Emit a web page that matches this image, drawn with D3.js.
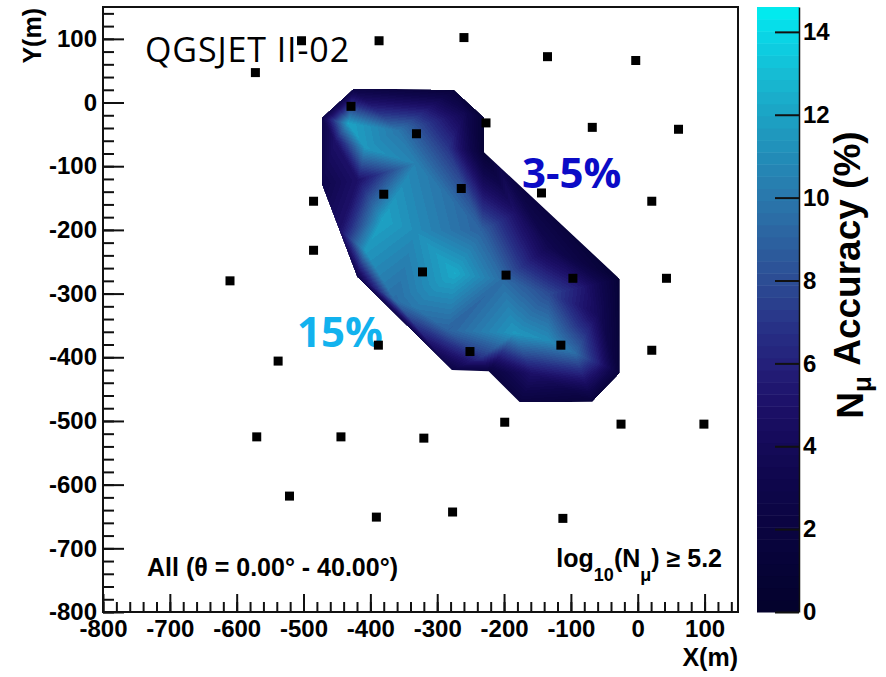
<!DOCTYPE html>
<html>
<head>
<meta charset="utf-8">
<script src="https://cdn.jsdelivr.net/npm/d3@7"></script>
<style>
  body { margin: 0; background: #fff; }
  text { font-family: "Liberation Sans", Arial, sans-serif; }
</style>
</head>
<body>
<svg width="886" height="677"></svg>
<script>
// detector stations (m)
const detX = [-503, -387, -260, -572, -429, -331, -264, -380, -485, -485, -610, -322,
  -135, -3, -227, -68, 61, -144, 21, -197, -97, 43, -388, -251, -538, -570, -444,
  -320, -521, -391, -277, -115, 21, -199, -25, 99, -112];
const detY = [97, 97, 102, 47, -6, -49, -135, -144, -155, -232, -280, -266,
  72, 66, -32, -39, -42, -142, -155, -271, -276, -276, -381, -391, -406, -525, -525,
  -527, -618, -651, -643, -381, -389, -502, -505, -505, -653];

// outline of the interpolated region and accuracy on it (%)
const hullX = [-425, -275, -230, -230, -27, -27, -68, -176, -223, -278, -420, -473, -473];
const hullY = [22, 20, -23, -78, -277, -425, -470, -471, -422, -420, -274, -128, -24];
const hullVal = [2.5, 1.5, 1, 1, 1, 1.5, 1.5, 2, 2, 2.5, 3, 3, 3];

// accuracy read inside the region (%)
const nodeX = [-433, -408, -359, -333, -284, -258, -418, -382, -333, -273, -233, -184, -134,
  -203, -134, -83, -59, -184, -134, -94, -59, -333, -284, -233, -158, -408, -363, -453, -445];
const nodeY = [-33, -71, -44, -96, -71, -17, -122, -185, -201, -268, -201, -174, -228,
  -279, -300, -290, -331, -362, -373, -394, -409, -322, -358, -400, -425, -232, -311, -60, -201];
const nodeVal = [12, 11.5, 10, 10.5, 7, 3.5, 5, 12, 11, 12.3, 9, 5, 3.5,
  9.5, 8, 5.5, 4, 11.5, 11, 9.5, 6, 10, 9, 7, 5, 11.5, 9.5, 5, 5];

const xTicks = [-800, -700, -600, -500, -400, -300, -200, -100, 0, 100];
const yTicks = [-800, -700, -600, -500, -400, -300, -200, -100, 0, 100];
const zTicks = [0, 2, 4, 6, 8, 10, 12, 14];

const paletteStops = [0, 1, 2, 3, 4, 5, 6, 7, 8, 9, 10, 11, 12, 13, 14, 14.6];
const paletteColors = ['#04022c', '#060336', '#0a0440', '#0e064a', '#140a58', '#1c1068',
  '#24207a', '#283488', '#2c4c94', '#2c62a0', '#2a78ac', '#228cb8', '#1ca3c4', '#16bcd4',
  '#08d8e8', '#00f0f0'];

const zMax = 14.6;
const nLevels = 50;

const svg = d3.select('svg');

const x = d3.scaleLinear().domain([-800, 150]).range([103, 738]);
const y = d3.scaleLinear().domain([-800, 150]).range([612, 7]);
const z = d3.scaleLinear().domain([0, zMax]).range([612, 7]);

const palette = d3.scaleLinear().domain(paletteStops).range(paletteColors);
const levelColor = d3.range(nLevels).map(i => palette((i + 0.5) * zMax / nLevels));
const levelRgb = levelColor.map(c => d3.rgb(c));

// interpolated map, drawn on a canvas and clipped to the region outline
const x0 = x.range()[0], y0 = y.range()[1];
const W = x.range()[1] - x0, H = y.range()[0] - y0;

const nodes = hullX.map((d, i) => [d, hullY[i], hullVal[i]])
  .concat(nodeX.map((d, i) => [d, nodeY[i], nodeVal[i]]));
const pts = nodes.map(d => [x(d[0]) - x0, y(d[1]) - y0]);
const delaunay = d3.Delaunay.from(pts);
const tri = delaunay.triangles;

const canvas = document.createElement('canvas');
canvas.width = W;
canvas.height = H;
const ctx = canvas.getContext('2d');
const img = ctx.createImageData(W, H);

for (let t = 0; t < tri.length; t += 3) {
  const a = pts[tri[t]], b = pts[tri[t + 1]], c = pts[tri[t + 2]];
  const va = nodes[tri[t]][2], vb = nodes[tri[t + 1]][2], vc = nodes[tri[t + 2]][2];
  const det = (b[1] - c[1]) * (a[0] - c[0]) + (c[0] - b[0]) * (a[1] - c[1]);
  const xmin = Math.max(0, Math.floor(Math.min(a[0], b[0], c[0])));
  const xmax = Math.min(W - 1, Math.ceil(Math.max(a[0], b[0], c[0])));
  const ymin = Math.max(0, Math.floor(Math.min(a[1], b[1], c[1])));
  const ymax = Math.min(H - 1, Math.ceil(Math.max(a[1], b[1], c[1])));
  for (let py = ymin; py <= ymax; py++) {
    for (let px = xmin; px <= xmax; px++) {
      const sx = px + 0.5, sy = py + 0.5;
      const l1 = ((b[1] - c[1]) * (sx - c[0]) + (c[0] - b[0]) * (sy - c[1])) / det;
      const l2 = ((c[1] - a[1]) * (sx - c[0]) + (a[0] - c[0]) * (sy - c[1])) / det;
      const l3 = 1 - l1 - l2;
      if (l1 < -1e-6 || l2 < -1e-6 || l3 < -1e-6) continue;
      const v = l1 * va + l2 * vb + l3 * vc;
      const k = Math.max(0, Math.min(nLevels - 1, Math.floor(v / zMax * nLevels)));
      const col = levelRgb[k];
      const o = (py * W + px) * 4;
      img.data[o] = col.r;
      img.data[o + 1] = col.g;
      img.data[o + 2] = col.b;
      img.data[o + 3] = 255;
    }
  }
}
ctx.putImageData(img, 0, 0);

const outline = d3.line()
  .x((d, i) => x(d))
  .y((d, i) => y(hullY[i]))
  .curve(d3.curveLinearClosed);

svg.append('defs').append('clipPath')
  .attr('id', 'region')
  .append('path')
  .attr('d', outline(hullX));

svg.append('image')
  .attr('x', x0)
  .attr('y', y0)
  .attr('width', W)
  .attr('height', H)
  .attr('href', canvas.toDataURL())
  .attr('clip-path', 'url(#region)');

// frame
svg.append('rect')
  .attr('x', x0)
  .attr('y', y0)
  .attr('width', W)
  .attr('height', H)
  .attr('fill', 'none')
  .attr('stroke', '#111')
  .attr('stroke-width', 2);

// axes
const minorX = d3.range(-800, 151, 20);
const minorY = d3.range(-800, 151, 20);

const styleAxis = g => {
  g.select('.domain').remove();
  g.selectAll('line').attr('stroke', '#111').attr('stroke-width', 2);
  g.selectAll('text')
    .attr('fill', '#000')
    .style('font-size', '24px')
    .style('font-weight', 'bold');
};

svg.append('g')
  .attr('transform', `translate(0, ${y.range()[0]})`)
  .call(d3.axisBottom(x).tickValues(minorX).tickSize(-10).tickFormat(''))
  .call(styleAxis);

svg.append('g')
  .attr('transform', `translate(0, ${y.range()[0]})`)
  .call(d3.axisBottom(x).tickValues(xTicks).tickSize(-18).tickPadding(8).tickFormat(d3.format('d')))
  .call(styleAxis);

svg.append('g')
  .attr('transform', `translate(${x0}, 0)`)
  .call(d3.axisLeft(y).tickValues(minorY).tickSize(-11).tickFormat(''))
  .call(styleAxis);

svg.append('g')
  .attr('transform', `translate(${x0}, 0)`)
  .call(d3.axisLeft(y).tickValues(yTicks).tickSize(-21).tickPadding(6).tickFormat(d3.format('d')))
  .call(styleAxis);

svg.selectAll('.tick text').text(function () { return this.textContent.replace('−', '-'); });

svg.append('text')
  .attr('x', 738)
  .attr('y', 666)
  .attr('text-anchor', 'end')
  .style('font-size', '25px')
  .style('font-weight', 'bold')
  .text('X(m)');

svg.append('text')
  .attr('transform', 'translate(41, 8) rotate(-90)')
  .attr('text-anchor', 'end')
  .style('font-size', '25px')
  .style('font-weight', 'bold')
  .text('Y(m)');

// colour bar
const barX = 757, barW = 42;
const bar = svg.append('g');
bar.selectAll('rect')
  .data(d3.range(nLevels))
  .join('rect')
  .attr('x', barX)
  .attr('width', barW)
  .attr('y', i => z((i + 1) * zMax / nLevels))
  .attr('height', i => z(i * zMax / nLevels) - z((i + 1) * zMax / nLevels) + 0.5)
  .attr('fill', i => levelColor[i]);

svg.append('g')
  .attr('transform', `translate(${barX + barW}, 0)`)
  .call(d3.axisRight(z).tickValues(zTicks).tickSize(-24).tickPadding(4).tickSizeOuter(0))
  .call(g => {
    g.select('.domain').attr('stroke', '#111').attr('stroke-width', 1.5);
    g.selectAll('line').attr('stroke', '#111').attr('stroke-width', 2);
    g.selectAll('text')
      .attr('fill', '#000')
      .style('font-size', '24px')
      .style('font-weight', 'bold');
  });

const zTitle = svg.append('text')
  .attr('transform', 'translate(863, 275) rotate(-90)')
  .attr('text-anchor', 'middle')
  .style('font-size', '37px')
  .style('font-weight', 'bold');
zTitle.append('tspan').text('N');
zTitle.append('tspan').attr('dy', '0.3em').style('font-size', '26px').text('μ');
zTitle.append('tspan').attr('dy', '-0.3em').text(' Accuracy (%)');

// labels inside the frame
svg.append('text')
  .attr('x', 145)
  .attr('y', 62)
  .style('font-family', '"Open Sans", "Noto Sans", sans-serif')
  .style('font-size', '34px')
  .style('letter-spacing', '0.9px')
  .text('QGSJET II-02');

svg.append('text')
  .attr('x', 522)
  .attr('y', 188)
  .attr('fill', '#0b0bc6')
  .style('font-family', '"Open Sans", "Noto Sans", sans-serif')
  .style('font-size', '42px')
  .style('font-weight', 'bold')
  .text('3-5%');

svg.append('text')
  .attr('x', 297)
  .attr('y', 347)
  .attr('fill', '#12b2ee')
  .style('font-family', '"Open Sans", "Noto Sans", sans-serif')
  .style('font-size', '42px')
  .style('font-weight', 'bold')
  .text('15%');

svg.append('text')
  .attr('x', 147)
  .attr('y', 576)
  .style('font-size', '25px')
  .style('font-weight', 'bold')
  .text('All (θ = 0.00° - 40.00°)');

const cut = svg.append('text')
  .attr('x', 722)
  .attr('y', 567)
  .attr('text-anchor', 'end')
  .style('font-size', '25px')
  .style('font-weight', 'bold');
cut.append('tspan').text('log');
cut.append('tspan').attr('dy', 14).style('font-size', '18px').text('10');
cut.append('tspan').attr('dy', -14).text('(N');
cut.append('tspan').attr('dy', 14).style('font-size', '18px').text('μ');
cut.append('tspan').attr('dy', -14).text(') ≥ 5.2');

// stations
svg.append('g')
  .selectAll('rect')
  .data(detX)
  .join('rect')
  .attr('x', (d, i) => x(d) - 4.5)
  .attr('y', (d, i) => y(detY[i]) - 4.5)
  .attr('width', 9)
  .attr('height', 9)
  .attr('fill', '#000');
</script>
</body>
</html>
